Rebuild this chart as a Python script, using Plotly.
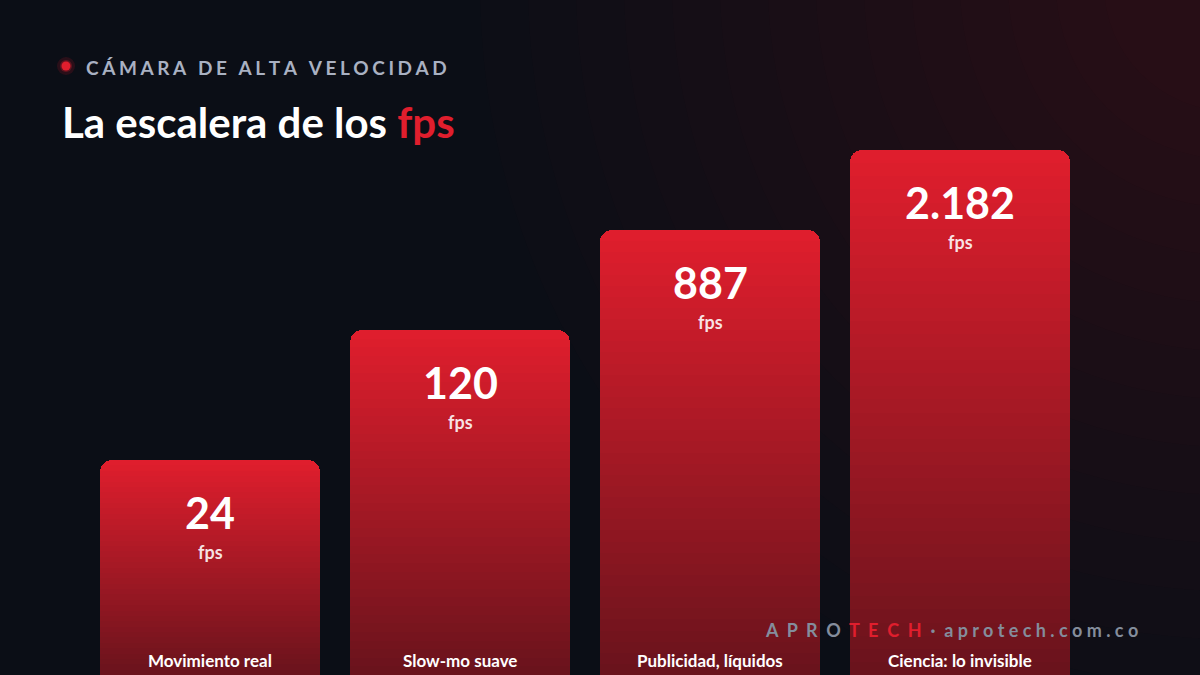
import plotly.graph_objects as go

categories = ["Movimiento real", "Slow-mo suave", "Publicidad, líquidos", "Ciencia: lo invisible"]
fps_labels = ["24", "120", "887", "2.182"]
step_heights = [215, 345, 445, 525]

N_SEG = 40
TOP = (224, 30, 45)
BOTTOM = (105, 19, 28)


def mix(t):
    c = [round(BOTTOM[i] + (TOP[i] - BOTTOM[i]) * t) for i in range(3)]
    return f"rgb({c[0]},{c[1]},{c[2]})"


def spaced(s, sep="\u2009\u200a"):
    return sep.join(s)


xs = list(range(len(categories)))
fig = go.Figure()
for k in range(N_SEG):
    fig.add_trace(go.Bar(
        x=xs, y=[h / N_SEG for h in step_heights], width=0.88,
        marker={"color": mix((k + 0.5) / N_SEG), "line": {"width": 0}},
        hoverinfo="skip", showlegend=False,
    ))

font = "Lato, 'Open Sans', sans-serif"
ann = []
for i, (lab, val, h) in enumerate(zip(categories, fps_labels, step_heights)):
    ann.append(dict(x=i, y=h - 52, text=f"<b>{val}</b>", showarrow=False,
                    font={"size": 43, "color": "white", "family": font}))
    ann.append(dict(x=i, y=h - 92, text="<b>fps</b>", showarrow=False,
                    font={"size": 18, "color": "rgba(255,255,255,0.88)", "family": font}))
    ann.append(dict(x=i, y=15, text=f"<b>{lab}</b>", showarrow=False,
                    font={"size": 17, "color": "white", "family": font}))

ann.append(dict(xref="paper", yref="paper", x=84 / 1200, y=1 - 67 / 675,
                xanchor="left", yanchor="middle",
                text=f"<b>{spaced('CÁMARA DE ALTA VELOCIDAD')}</b>", showarrow=False,
                font={"size": 19, "color": "#a9b1c2", "family": font}))
ann.append(dict(xref="paper", yref="paper", x=60 / 1200, y=1 - 122 / 675,
                xanchor="left", yanchor="middle",
                text="<b>La escalera de los <span style='color:#e01e2d'>fps</span></b>",
                showarrow=False, font={"size": 42, "color": "white", "family": font}))
ann.append(dict(xref="paper", yref="paper", x=1140 / 1200, y=1 - 630 / 675,
                xanchor="right", yanchor="middle",
                text=(f"<b>{spaced('APRO', '  ')}  <span style='color:#e01e2d'>{spaced('TECH', '  ')}</span>"
                      f"  ·  {spaced('aprotech.com.co', ' ')}</b>"),
                showarrow=False, font={"size": 18, "color": "#848d9c", "family": font}))

shapes = []
# soft reddish glow in the top-right corner
for j in range(14):
    r = 750 - j * 48
    shapes.append(dict(type="circle", xref="paper", yref="paper", layer="below",
                       x0=(1230 - r) / 1200, x1=(1230 + r) / 1200,
                       y0=(690 - r) / 675, y1=(690 + r) / 675,
                       fillcolor="rgba(120,22,32,0.022)", line={"width": 0}))
# glowing dot
for r, col in [(9, "rgba(224,30,45,0.15)"), (6, "rgba(224,30,45,0.3)"), (4.5, "#e01e2d")]:
    shapes.append(dict(type="circle", xref="paper", yref="paper",
                       x0=(66 - r) / 1200, x1=(66 + r) / 1200,
                       y0=1 - (66 + r) / 675, y1=1 - (66 - r) / 675,
                       fillcolor=col, line={"width": 0}))

fig.update_layout(
    width=1200, height=675, barmode="stack", barcornerradius=12, bargap=0,
    paper_bgcolor="#0b0e16", plot_bgcolor="rgba(0,0,0,0)",
    margin={"l": 0, "r": 0, "t": 0, "b": 0},
    xaxis={"range": [-0.84, 3.96], "visible": False, "fixedrange": True},
    yaxis={"range": [0, 675], "visible": False, "fixedrange": True},
    annotations=ann, shapes=shapes,
)
fig.write_html("out.html", config={"displayModeBar": False},
               post_script="document.body.style.margin='0';document.body.style.overflow='hidden';")
